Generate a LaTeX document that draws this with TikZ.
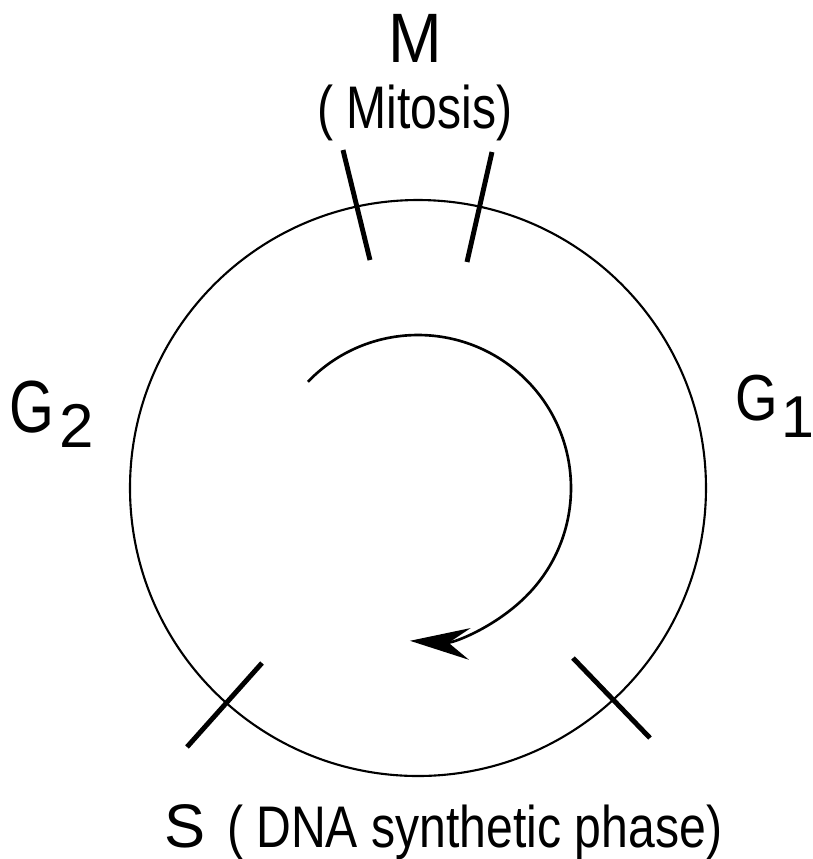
\documentclass[tikz,border=0pt]{standalone}
\usepackage{fontspec}
\setmainfont{Liberation Sans}
\usetikzlibrary{arrows.meta}
\newcommand{\cnd}[2]{\scalebox{#1}[1]{#2}}
\begin{document}
\begin{tikzpicture}[x=0.01cm,y=-0.01cm,
  ring/.style={line width=0.6pt},
  tickmark/.style={line width=1.4pt},
  cyc/.style={line width=0.75pt,-{Stealth[length=17pt,width=9pt,inset=6pt]}},
  lbl/.style={inner sep=0pt,outer sep=0pt}]
\useasboundingbox (0,0) rectangle (813,859);
\coordinate (c) at (418,488);
\draw[ring] (c) circle[radius=288];
% phase boundaries
\draw[tickmark] (343,150) -- (370,260);
\draw[tickmark] (492,152) -- (467,262);
\draw[tickmark] (262,663) -- (187,747);
\draw[tickmark] (573,658) -- (650,738);
% cycle arrow
\draw[cyc] (c) ++(-136:153) arc[start angle=-136,end angle=93,radius=153];
% labels
\node[lbl,anchor=base] (m) at (415,62) {\fontsize{19.9}{24}\selectfont\cnd{0.92}{M}};
\node[lbl,anchor=base] (mit) at (415,128) {\fontsize{17.1}{20}\selectfont\cnd{0.8}{( Mitosis)}};
\node[lbl,anchor=base west] (g2) at (10,432) {\fontsize{21}{24}\selectfont\cnd{0.78}{G}\kern0.05cm\raisebox{-0.15cm}{\fontsize{17.6}{20}\selectfont 2}};
\node[lbl,anchor=base west] (g1) at (736,420) {\fontsize{18.5}{22}\selectfont\cnd{0.84}{G}\kern0.03cm\raisebox{-0.17cm}{\fontsize{16.8}{20}\selectfont\makebox[0.23cm][l]{1}}};
\node[lbl,anchor=base west] (s) at (165,847) {\fontsize{17.5}{20}\selectfont S\hspace{0.21cm}\fontsize{16.7}{20}\selectfont\cnd{0.82}{( DNA synthetic phase)}};
\end{tikzpicture}
\end{document}
